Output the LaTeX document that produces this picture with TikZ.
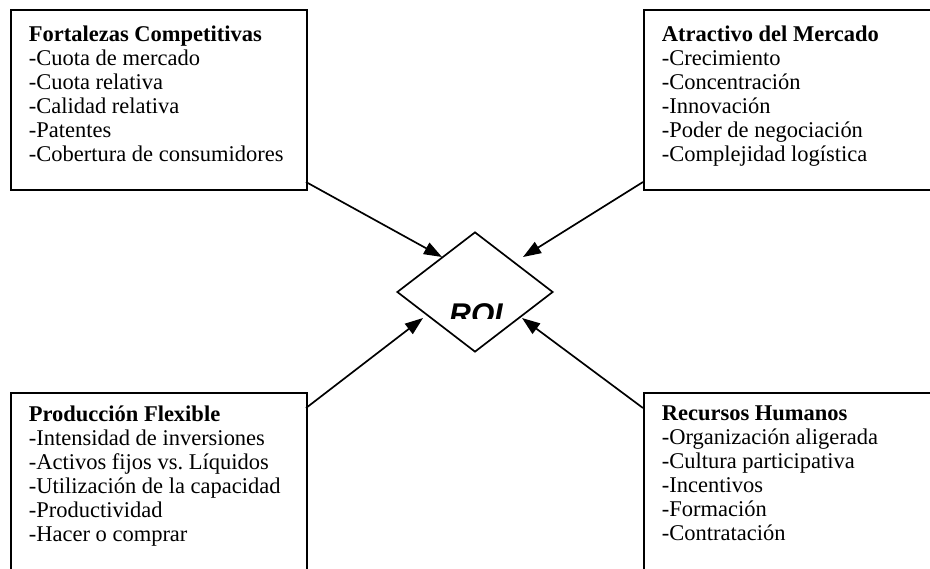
\documentclass[tikz,border=0pt]{standalone}
\usepackage{fontspec}
\setmainfont{Liberation Serif}
\setsansfont{Liberation Sans}
\frenchspacing
\usetikzlibrary{shapes.geometric,arrows.meta,positioning}

\def\lw{1.2pt}

\begin{document}
\begin{tikzpicture}[line width=\lw, every node/.style={inner sep=0},
	caja/.style={draw,rectangle,anchor=north west,minimum width=7.4cm,minimum height=4.5cm},
	texto/.style={anchor=north west,align=left,font=\fontsize{16pt}{17.1pt}\selectfont},
	flecha/.style={-{Triangle[length=0.45cm,width=0.32cm]}}]
		
		\useasboundingbox (0,0) rectangle (23.25,-14.2);
		
		\node (FC) at (0.25,-0.225) [caja] {};
		\node (AM) at (16.075,-0.225) [caja] {};
		\node (PF) at (0.25,-9.8) [caja] {};
		\node (RH) at (16.075,-9.8) [caja] {};
		
		\node (FCt) [texto,below right=0.4cm and 0.45cm of FC.north west] {\textbf{Fortalezas Competitivas}\\-Cuota de mercado\\-Cuota relativa\\-Calidad relativa\\-Patentes\\-Cobertura de consumidores};
		\node (AMt) [texto,below right=0.4cm and 0.45cm of AM.north west] {\textbf{Atractivo del Mercado}\\-Crecimiento\\-Concentración\\-Innovación\\-Poder de negociación\\-Complejidad logística};
		\node (PFt) [texto,below right=0.33cm and 0.45cm of PF.north west] {\textbf{Producción Flexible}\\-Intensidad de inversiones\\-Activos fijos vs. Líquidos\\-Utilización de la capacidad\\-Productividad\\-Hacer o comprar};
		\node (RHt) [texto,below right=0.33cm and 0.45cm of RH.north west] {\textbf{Recursos Humanos}\\-Organización aligerada\\-Cultura participativa\\-Incentivos\\-Formación\\-Contratación};
		
		\node (ROI) at (11.875,-7.3) [diamond,draw,minimum width=3.9cm,minimum height=3cm] {};
		\begin{scope}
			\clip (10,-7.95) rectangle (14,-5.5);
			\node (T) at (11.9,-8.11) [anchor=base,font=\sffamily\bfseries\itshape\fontsize{21.3pt}{24pt}\selectfont] {ROI};
		\end{scope}
		
		\coordinate (FC1) at (7.65,-4.55);
		\coordinate (AM1) at (16.075,-4.55);
		\coordinate (PF1) at (7.65,-10.2);
		\coordinate (RH1) at (16.075,-10.2);
		\coordinate (ROI1) at (11.05,-6.425);
		\coordinate (ROI2) at (13.075,-6.425);
		\coordinate (ROI3) at (10.575,-7.95);
		\coordinate (ROI4) at (13.05,-7.95);
		
		\draw[flecha] (FC1) to (ROI1);
		\draw[flecha] (AM1) to (ROI2);
		\draw[flecha] (PF1) to (ROI3);
		\draw[flecha] (RH1) to (ROI4);
		
	\end{tikzpicture}
\end{document}
